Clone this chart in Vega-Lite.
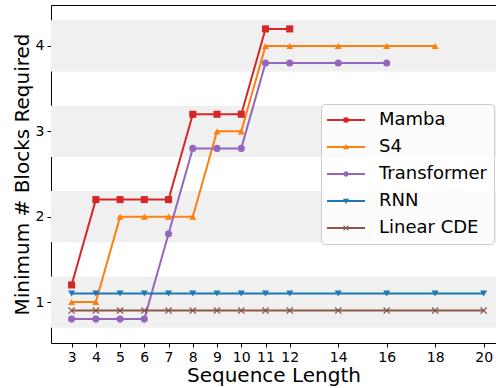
{
  "$schema": "https://vega.github.io/schema/vega-lite/v6.json",
  "autosize": {"type": "none"},
  "padding": {"left": 51, "top": 5, "right": 0, "bottom": 45},
  "width": 445,
  "height": 338,
  "config": {
    "view": {"stroke": null},
    "font": "DejaVu Sans",
    "axis": {
      "grid": false,
      "domainColor": "black",
      "tickColor": "black",
      "tickSize": 4,
      "labelColor": "black",
      "labelFont": "DejaVu Sans",
      "labelFontSize": 14,
      "titleFont": "DejaVu Sans",
      "titleFontSize": 20,
      "titleFontWeight": "normal",
      "titleColor": "black",
      "labelFlush": false
    }
  },
  "datasets": {
    "series": [
      {"s": "Mamba", "x": 3, "y": 1.2}, {"s": "Mamba", "x": 4, "y": 2.2}, {"s": "Mamba", "x": 5, "y": 2.2}, {"s": "Mamba", "x": 6, "y": 2.2}, {"s": "Mamba", "x": 7, "y": 2.2},
      {"s": "Mamba", "x": 8, "y": 3.2}, {"s": "Mamba", "x": 9, "y": 3.2}, {"s": "Mamba", "x": 10, "y": 3.2}, {"s": "Mamba", "x": 11, "y": 4.2}, {"s": "Mamba", "x": 12, "y": 4.2},
      {"s": "S4", "x": 3, "y": 1.0}, {"s": "S4", "x": 4, "y": 1.0}, {"s": "S4", "x": 5, "y": 2.0}, {"s": "S4", "x": 6, "y": 2.0}, {"s": "S4", "x": 7, "y": 2.0},
      {"s": "S4", "x": 8, "y": 2.0}, {"s": "S4", "x": 9, "y": 3.0}, {"s": "S4", "x": 10, "y": 3.0}, {"s": "S4", "x": 11, "y": 4.0}, {"s": "S4", "x": 12, "y": 4.0},
      {"s": "S4", "x": 14, "y": 4.0}, {"s": "S4", "x": 16, "y": 4.0}, {"s": "S4", "x": 18, "y": 4.0},
      {"s": "Transformer", "x": 3, "y": 0.8}, {"s": "Transformer", "x": 4, "y": 0.8}, {"s": "Transformer", "x": 5, "y": 0.8}, {"s": "Transformer", "x": 6, "y": 0.8},
      {"s": "Transformer", "x": 7, "y": 1.8}, {"s": "Transformer", "x": 8, "y": 2.8}, {"s": "Transformer", "x": 9, "y": 2.8}, {"s": "Transformer", "x": 10, "y": 2.8},
      {"s": "Transformer", "x": 11, "y": 3.8}, {"s": "Transformer", "x": 12, "y": 3.8}, {"s": "Transformer", "x": 14, "y": 3.8}, {"s": "Transformer", "x": 16, "y": 3.8},
      {"s": "RNN", "x": 3, "y": 1.1}, {"s": "RNN", "x": 4, "y": 1.1}, {"s": "RNN", "x": 5, "y": 1.1}, {"s": "RNN", "x": 6, "y": 1.1}, {"s": "RNN", "x": 7, "y": 1.1},
      {"s": "RNN", "x": 8, "y": 1.1}, {"s": "RNN", "x": 9, "y": 1.1}, {"s": "RNN", "x": 10, "y": 1.1}, {"s": "RNN", "x": 11, "y": 1.1}, {"s": "RNN", "x": 12, "y": 1.1},
      {"s": "RNN", "x": 14, "y": 1.1}, {"s": "RNN", "x": 16, "y": 1.1}, {"s": "RNN", "x": 18, "y": 1.1}, {"s": "RNN", "x": 20, "y": 1.1},
      {"s": "Linear CDE", "x": 3, "y": 0.9}, {"s": "Linear CDE", "x": 4, "y": 0.9}, {"s": "Linear CDE", "x": 5, "y": 0.9}, {"s": "Linear CDE", "x": 6, "y": 0.9}, {"s": "Linear CDE", "x": 7, "y": 0.9},
      {"s": "Linear CDE", "x": 8, "y": 0.9}, {"s": "Linear CDE", "x": 9, "y": 0.9}, {"s": "Linear CDE", "x": 10, "y": 0.9}, {"s": "Linear CDE", "x": 11, "y": 0.9}, {"s": "Linear CDE", "x": 12, "y": 0.9},
      {"s": "Linear CDE", "x": 14, "y": 0.9}, {"s": "Linear CDE", "x": 16, "y": 0.9}, {"s": "Linear CDE", "x": 18, "y": 0.9}, {"s": "Linear CDE", "x": 20, "y": 0.9}
    ],
    "bands": [
      {"lo": 0.7, "hi": 1.3}, {"lo": 1.7, "hi": 2.3}, {"lo": 2.7, "hi": 3.3}, {"lo": 3.7, "hi": 4.3}
    ]
  },
  "resolve": {"scale": {"shape": "independent", "color": "independent"}, "axis": {"x": "independent"}},
  "layer": [
    {
      "data": {"name": "bands"},
      "mark": {"type": "rect", "color": "#f0f0f0"},
      "encoding": {
        "y": {"field": "lo", "type": "quantitative", "scale": {"domain": [0.52, 4.48], "nice": false, "zero": false},
              "axis": {"values": [1, 2, 3, 4], "format": "d", "title": "Minimum # Blocks Required", "labelPadding": 3, "titlePadding": 3}},
        "y2": {"field": "hi"}
      }
    },
    {
      "data": {"name": "series"},
      "mark": {"type": "line", "strokeWidth": 2},
      "encoding": {
        "x": {"field": "x", "type": "quantitative", "scale": {"domain": [2.15, 20.51], "nice": false, "zero": false},
              "axis": {"orient": "bottom", "values": [3, 4, 5, 6, 7, 8, 9, 10, 11, 12, 14, 16, 18, 20], "title": "Sequence Length", "labelPadding": 3, "titlePadding": 1}},
        "y": {"field": "y", "type": "quantitative"},
        "color": {"field": "s", "type": "nominal", "legend": null,
                  "scale": {"domain": ["Mamba", "S4", "Transformer", "RNN", "Linear CDE"], "range": ["#d62728", "#ff7f0e", "#9467bd", "#1f77b4", "#8c564b"]}}
      }
    },
    {
      "data": {"name": "series"},
      "mark": {"type": "point", "filled": true, "opacity": 1, "size": 50},
      "encoding": {
        "x": {"field": "x", "type": "quantitative",
              "axis": {"orient": "top", "labels": false, "ticks": false, "title": null, "domainColor": "black"}},
        "y": {"field": "y", "type": "quantitative"},
        "color": {"field": "s", "type": "nominal", "legend": null,
                  "scale": {"domain": ["Mamba", "S4", "Transformer", "RNN", "Linear CDE"], "range": ["#d62728", "#ff7f0e", "#9467bd", "#1f77b4", "#8c564b"]}},
        "shape": {"field": "s", "type": "nominal", "legend": null,
                  "scale": {"domain": ["Mamba", "S4", "Transformer", "RNN", "Linear CDE"],
                            "range": ["square", "triangle-up", "circle", "triangle-down", "M-1,-0.75L-0.75,-1L1,0.75L0.75,1ZM0.75,-1L1,-0.75L-0.75,1L-1,0.75Z"]}}
      }
    },
    {
      "data": {"name": "series"},
      "mark": {"type": "point", "filled": true, "opacity": 0},
      "encoding": {
        "x": {"field": "x", "type": "quantitative", "axis": null},
        "y": {"field": "y", "type": "quantitative"},
        "color": {"field": "s", "type": "nominal",
                  "scale": {"domain": ["Mamba", "S4", "Transformer", "RNN", "Linear CDE"], "range": ["#d62728", "#ff7f0e", "#9467bd", "#1f77b4", "#8c564b"]},
                  "legend": {
                    "orient": "none", "legendX": 270, "legendY": 99, "title": null,
                    "symbolSize": 1444, "clipHeight": 20, "rowPadding": 7,
                    "labelFont": "DejaVu Sans", "labelFontSize": 18, "labelColor": "black", "labelOffset": 14,
                    "padding": 6, "fillColor": "rgba(255,255,255,0.8)", "strokeColor": "#cccccc", "cornerRadius": 4,
                    "symbolOpacity": 1, "symbolStrokeWidth": 0
                  }},
        "shape": {"field": "s", "type": "nominal",
                  "scale": {"domain": ["Mamba", "S4", "Transformer", "RNN", "Linear CDE"],
                            "range": [
                              "M-1,-0.05H1V0.05H-1ZM-0.13,-0.13H0.13V0.13H-0.13Z",
                              "M-1,-0.05H1V0.05H-1ZM0,-0.16L0.16,0.12L-0.16,0.12Z",
                              "M-1,-0.05H1V0.05H-1ZM-0.14,0A0.14,0.14 0 1 1 0.14,0A0.14,0.14 0 1 1 -0.14,0Z",
                              "M-1,-0.05H1V0.05H-1ZM0,0.16L-0.16,-0.12L0.16,-0.12Z",
                              "M-1,-0.05H1V0.05H-1ZM-0.15,-0.11L-0.11,-0.15L0.15,0.11L0.11,0.15ZM0.11,-0.15L0.15,-0.11L-0.11,0.15L-0.15,0.11Z"
                            ]},
                  "legend": {
                    "orient": "none", "legendX": 270, "legendY": 99, "title": null,
                    "symbolSize": 1444, "clipHeight": 20, "rowPadding": 7,
                    "labelFont": "DejaVu Sans", "labelFontSize": 18, "labelColor": "black", "labelOffset": 14,
                    "padding": 6, "fillColor": "rgba(255,255,255,0.8)", "strokeColor": "#cccccc", "cornerRadius": 4,
                    "symbolOpacity": 1, "symbolStrokeWidth": 0
                  }}
      }
    }
  ]
}
